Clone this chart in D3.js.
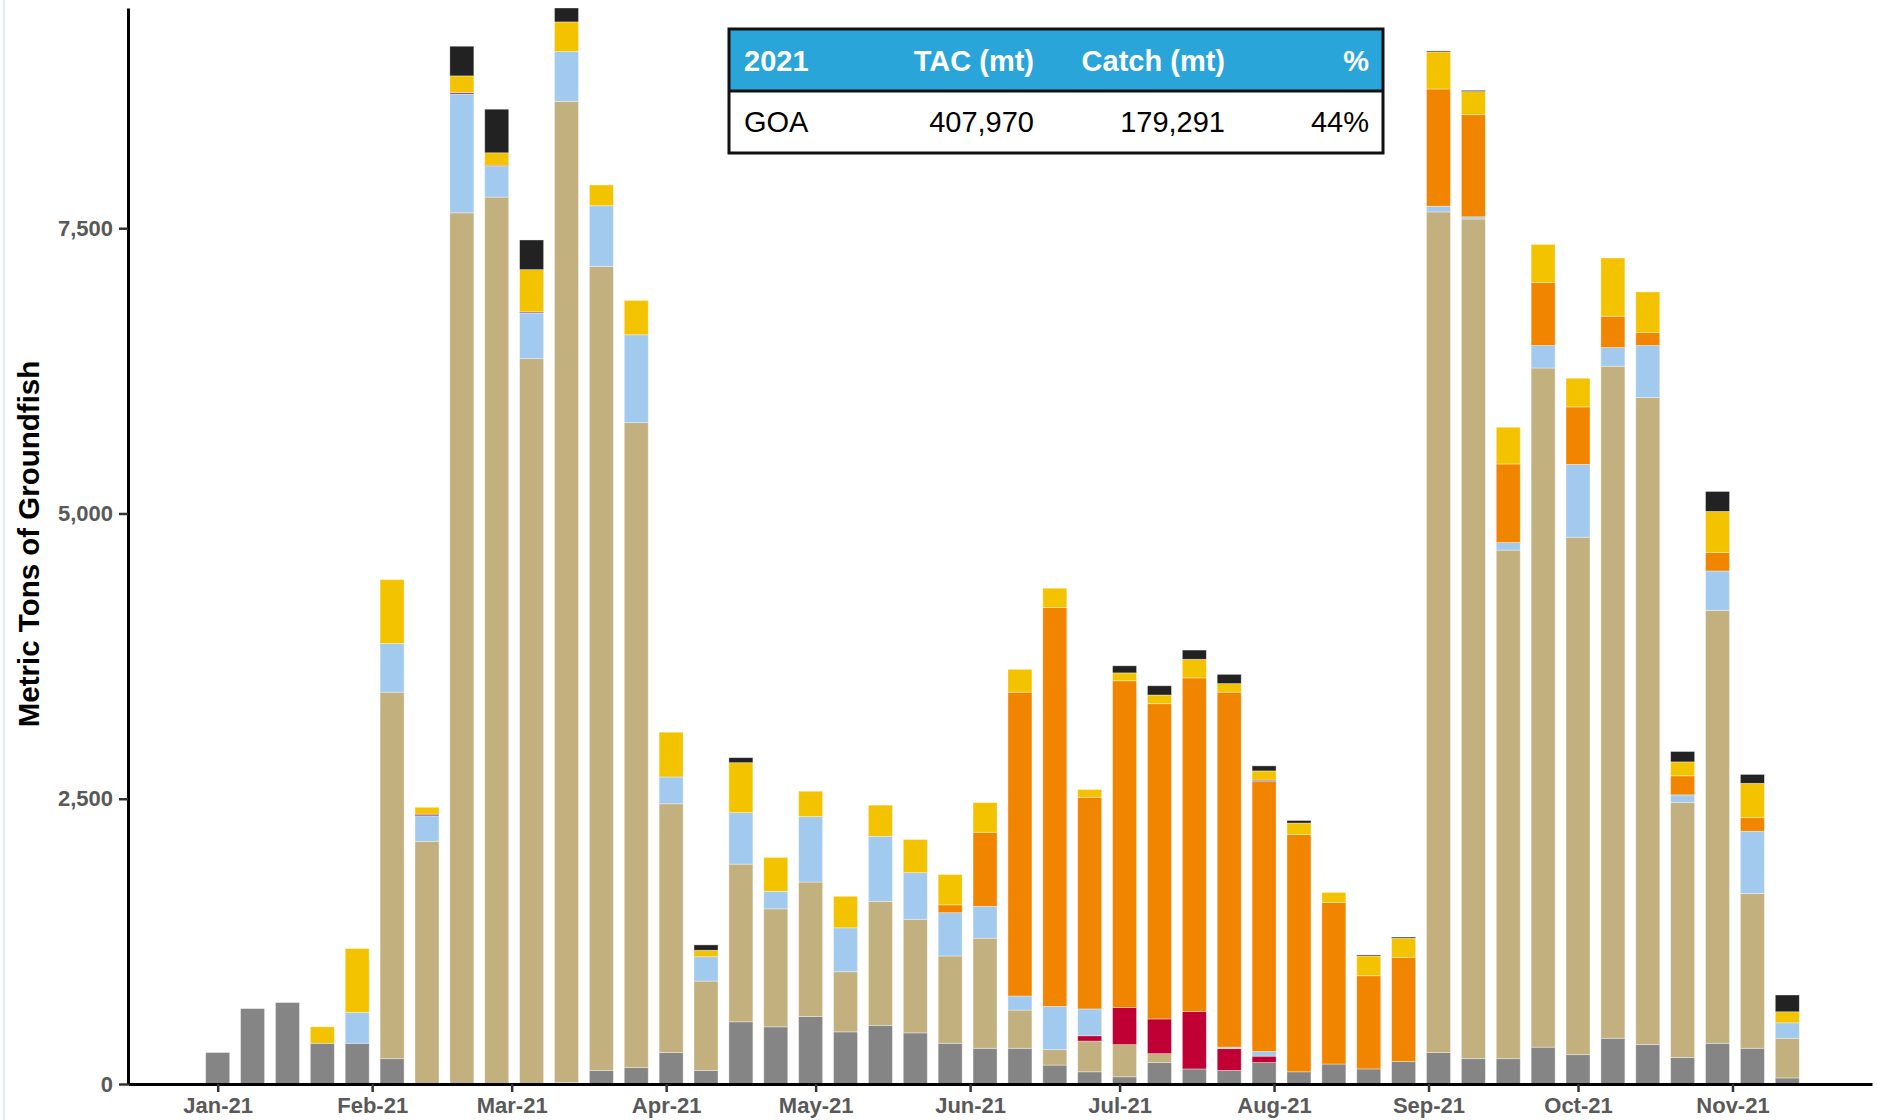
<!DOCTYPE html>
<html>
<head>
<meta charset="utf-8">
<script src="https://cdn.jsdelivr.net/npm/d3@7"></script>
<style>
  body { margin: 0; background: #fff; }
  svg { display: block; font-family: Arial, "Liberation Sans", sans-serif; }
</style>
</head>
<body>
<svg id="chart" width="1878" height="1120"></svg>
<script>
// week dates (one bar per week)
const weeks = [
  '2021-01-01','2021-01-08','2021-01-15','2021-01-22','2021-01-29',
  '2021-02-05','2021-02-12','2021-02-19','2021-02-26',
  '2021-03-05','2021-03-12','2021-03-19','2021-03-26',
  '2021-04-02','2021-04-09','2021-04-16','2021-04-23','2021-04-30',
  '2021-05-07','2021-05-14','2021-05-21','2021-05-28',
  '2021-06-04','2021-06-11','2021-06-18','2021-06-25',
  '2021-07-02','2021-07-09','2021-07-16','2021-07-23','2021-07-30',
  '2021-08-06','2021-08-13','2021-08-20','2021-08-27',
  '2021-09-03','2021-09-10','2021-09-17','2021-09-24',
  '2021-10-01','2021-10-08','2021-10-15','2021-10-22','2021-10-29',
  '2021-11-05','2021-11-12'
];

// stacked series, bottom to top (metric tons)
const gray = [276,661,714,357,357,222,0,0,0,0,12,119,144,276,119,545,501,592,457,514,448,357,313,313,166,107,63,188,132,119,188,107,175,132,197,276,222,222,323,257,401,345,232,357,313,53];
const tan = [0,0,0,0,0,3212,2127,7635,7773,6357,8600,7046,5652,2180,783,1382,1034,1178,527,1087,996,765,965,335,135,269,282,78,0,0,0,0,0,0,0,7367,7359,4457,5952,4535,5890,5671,2234,3794,1357,348];
const red = [0,0,0,0,0,0,0,0,0,0,0,0,0,0,0,0,0,0,0,0,0,0,0,0,0,47,325,304,504,191,56,0,0,0,0,0,0,0,0,0,0,0,0,0,0,0];
const blue = [0,0,0,0,270,426,223,1040,269,400,436,532,770,235,213,451,154,573,385,570,408,379,279,123,379,235,0,0,0,13,41,0,0,0,0,50,19,66,197,638,163,456,68,345,545,135];
const orange = [0,0,0,0,0,0,0,0,0,0,0,0,0,0,0,0,0,0,0,0,0,69,649,2663,3496,1855,2864,2763,2923,3111,2365,2080,1416,817,912,1027,895,689,552,504,275,113,167,162,119,0];
const purple = [0,0,0,0,0,0,15,15,10,10,0,0,0,0,0,0,0,0,0,0,0,0,0,0,0,0,0,0,0,0,13,0,0,0,0,0,0,0,0,0,0,0,0,0,0,0];
const yellow = [0,0,0,144,560,560,60,145,109,370,260,182,301,392,57,438,297,223,276,273,291,266,260,200,169,68,69,76,163,75,81,100,88,173,169,325,203,322,334,251,510,357,122,360,301,97];
const black = [0,0,0,0,0,0,0,260,382,260,122,0,0,0,47,44,0,0,0,0,0,0,0,0,0,0,62,81,81,81,44,22,0,9,10,9,10,0,0,0,0,0,91,175,78,147];

const monthTicks = ['2021-01-01','2021-02-01','2021-03-01','2021-04-01','2021-05-01','2021-06-01',
  '2021-07-01','2021-08-01','2021-09-01','2021-10-01','2021-11-01'];
const yTicks = [0, 2500, 5000, 7500];

const tableHeader = ['2021', 'TAC (mt)', 'Catch (mt)', '%'];
const tableRow = ['GOA', '407,970', '179,291', '44%'];

const keys = ['gray', 'tan', 'red', 'blue', 'orange', 'purple', 'yellow', 'black'];
const colors = {
  gray: '#858585', tan: '#C3B07F', red: '#C00035', blue: '#A1CAEE',
  orange: '#F28500', purple: '#8A3F7E', yellow: '#F4C300', black: '#222222'
};

const parse = d3.timeParse('%Y-%m-%d');
const values = { gray, tan, red, blue, orange, purple, yellow, black };
const data = weeks.map((w, i) => {
  const row = { date: parse(w) };
  keys.forEach(k => { row[k] = values[k][i]; });
  return row;
});

const svg = d3.select('#chart');

// faint page edge line
svg.append('line')
  .attr('x1', 4).attr('x2', 4).attr('y1', 0).attr('y2', 1120)
  .attr('stroke', '#d9e3ea').attr('stroke-width', 1.5);

const x = d3.scaleTime()
  .domain([parse('2020-12-14'), parse('2021-11-29')])
  .range([128, 1872]);

const y = d3.scaleLinear()
  .domain([0, 9430])
  .range([1084, 8]);

const barWidth = 24;
const stacked = d3.stack().keys(keys)(data);

svg.append('g')
  .selectAll('g')
  .data(stacked)
  .enter()
  .append('g')
  .attr('fill', d => colors[d.key])
  .selectAll('rect')
  .data(d => d.filter(p => p[1] - p[0] > 0))
  .enter()
  .append('rect')
  .attr('x', d => x(d.data.date) - barWidth / 2)
  .attr('width', barWidth)
  .attr('y', d => y(d[1]))
  .attr('height', d => y(d[0]) - y(d[1]))
  .attr('stroke', '#ffffff')
  .attr('stroke-opacity', 0.45)
  .attr('stroke-width', 0.8);

// y axis
const yAxis = svg.append('g')
  .attr('transform', 'translate(128,0)')
  .call(d3.axisLeft(y).tickValues(yTicks).tickFormat(d3.format(',')).tickSize(9).tickSizeOuter(0).tickPadding(6));

// x axis
const xAxis = svg.append('g')
  .attr('transform', 'translate(0,1084)')
  .call(d3.axisBottom(x).tickValues(monthTicks.map(parse)).tickFormat(d3.timeFormat('%b-%y')).tickSize(8).tickSizeOuter(0).tickPadding(6));

[yAxis, xAxis].forEach(a => {
  a.select('.domain').attr('stroke', '#000').attr('stroke-width', 3);
  a.selectAll('.tick line').attr('stroke', '#333').attr('stroke-width', 2.5);
  a.selectAll('.tick text')
    .attr('fill', '#595959')
    .style('font-size', '22px')
    .style('font-weight', 'bold')
    .style('font-family', 'Arial, "Liberation Sans", sans-serif');
});
xAxis.selectAll('.tick text').attr('dy', '0.68em');

// y axis title
svg.append('text')
  .attr('transform', 'translate(39,544) rotate(-90)')
  .attr('text-anchor', 'middle')
  .style('font-size', '29.5px')
  .style('font-weight', 'bold')
  .attr('fill', '#000')
  .text('Metric Tons of Groundfish');

// summary table
const table = svg.append('g');
table.append('rect')
  .attr('x', 729).attr('y', 29).attr('width', 654).attr('height', 62)
  .attr('fill', '#29A5DA');
table.append('rect')
  .attr('x', 729).attr('y', 91).attr('width', 654).attr('height', 62)
  .attr('fill', '#fff');
table.append('rect')
  .attr('x', 729).attr('y', 29).attr('width', 654).attr('height', 124)
  .attr('fill', 'none').attr('stroke', '#111').attr('stroke-width', 3);
table.append('line')
  .attr('x1', 729).attr('x2', 1383).attr('y1', 91).attr('y2', 91)
  .attr('stroke', '#111').attr('stroke-width', 3);

const colX = [744, 1034, 1225, 1369];
const colAnchor = ['start', 'end', 'end', 'end'];

table.selectAll('.hdr')
  .data(tableHeader)
  .enter()
  .append('text')
  .attr('class', 'hdr')
  .attr('x', (d, i) => colX[i])
  .attr('y', 71)
  .attr('text-anchor', (d, i) => colAnchor[i])
  .attr('fill', '#fff')
  .style('font-size', '29px')
  .style('font-weight', 'bold')
  .text(d => d);

table.selectAll('.cell')
  .data(tableRow)
  .enter()
  .append('text')
  .attr('class', 'cell')
  .attr('x', (d, i) => colX[i])
  .attr('y', 132)
  .attr('text-anchor', (d, i) => colAnchor[i])
  .attr('fill', '#000')
  .style('font-size', '29px')
  .text(d => d);
</script>
</body>
</html>
